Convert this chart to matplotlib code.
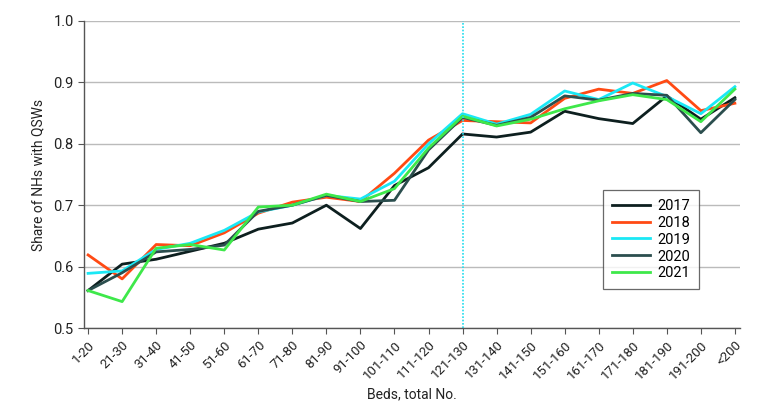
import matplotlib
matplotlib.use("Agg")
import matplotlib.pyplot as plt

categories = ["1-20", "21-30", "31-40", "41-50", "51-60", "61-70", "71-80", "81-90",
              "91-100", "101-110", "111-120", "121-130", "131-140", "141-150",
              "151-160", "161-170", "171-180", "181-190", "191-200", "<200"]

y2017 = [0.561, 0.604, 0.612, 0.625, 0.638, 0.661, 0.671, 0.700, 0.662, 0.732, 0.761,
         0.816, 0.811, 0.819, 0.853, 0.841, 0.833, 0.878, 0.840, 0.875]
y2018 = [0.619, 0.580, 0.636, 0.634, 0.655, 0.687, 0.705, 0.713, 0.706, 0.752, 0.806,
         0.838, 0.836, 0.834, 0.874, 0.889, 0.882, 0.903, 0.854, 0.866]
y2019 = [0.589, 0.593, 0.628, 0.638, 0.659, 0.689, 0.700, 0.716, 0.710, 0.739, 0.800,
         0.849, 0.832, 0.848, 0.886, 0.872, 0.899, 0.877, 0.849, 0.893]
y2020 = [0.561, 0.590, 0.624, 0.628, 0.635, 0.690, 0.700, 0.716, 0.706, 0.708, 0.790,
         0.843, 0.830, 0.843, 0.878, 0.871, 0.882, 0.879, 0.818, 0.872]
y2021 = [0.561, 0.543, 0.630, 0.636, 0.627, 0.697, 0.700, 0.718, 0.706, 0.727, 0.793,
         0.845, 0.829, 0.840, 0.857, 0.870, 0.880, 0.872, 0.836, 0.889]

series = [("2017", y2017, "#0d1f1f"), ("2018", y2018, "#ff4a14"),
          ("2019", y2019, "#1ae8f5"), ("2020", y2020, "#2b4e4e"),
          ("2021", y2021, "#3ee84a")]

plt.rcParams['font.family'] = ['Roboto', 'DejaVu Sans']

fig = plt.figure(figsize=(7.8, 4.09), dpi=100)
ax = fig.add_axes([0.1077, 0.198, 0.841, 0.7507])

x = list(range(len(categories)))
for name, vals, col in series:
    ax.plot(x, vals, color=col, lw=2.0, label=name)

ax.axvline(categories.index("121-130"), color="#22ddee", lw=1.2, ls=(0, (1, 1)))

ax.set_ylim(0.5, 1.0)
ax.set_xlim(-0.12, 19.15)
ax.set_yticks([0.5, 0.6, 0.7, 0.8, 0.9, 1.0])
ax.set_yticklabels(["0.5", "0.6", "0.7", "0.8", "0.9", "1.0"], fontsize=10.5, color="#222222")
ax.set_xticks(x)
ax.set_xticklabels(categories, rotation=45, ha="right", rotation_mode="anchor", fontsize=9.5, color="#222222")
ax.yaxis.grid(True, color="#bbbbbb", lw=1.0)
ax.set_axisbelow(True)
for s in ["top", "right"]:
    ax.spines[s].set_visible(False)
for s in ["left", "bottom"]:
    ax.spines[s].set_color("#555555")
    ax.spines[s].set_linewidth(1.0)
ax.tick_params(axis="both", color="#555555", length=4)

ax.set_ylabel("Share of NHs with QSWs", fontsize=10, color="#222222", labelpad=6)
ax.set_xlabel("Beds, total No.", fontsize=10, color="#222222", labelpad=4)

leg = ax.legend(loc="center", bbox_to_anchor=(0.864, 0.288), fontsize=10.5, frameon=True,
                fancybox=False, edgecolor="#444444", handlelength=2.6, handletextpad=0.5,
                labelspacing=0.2, borderpad=0.6)
leg.get_frame().set_linewidth(0.9)

fig.savefig("out.png", dpi=100)
